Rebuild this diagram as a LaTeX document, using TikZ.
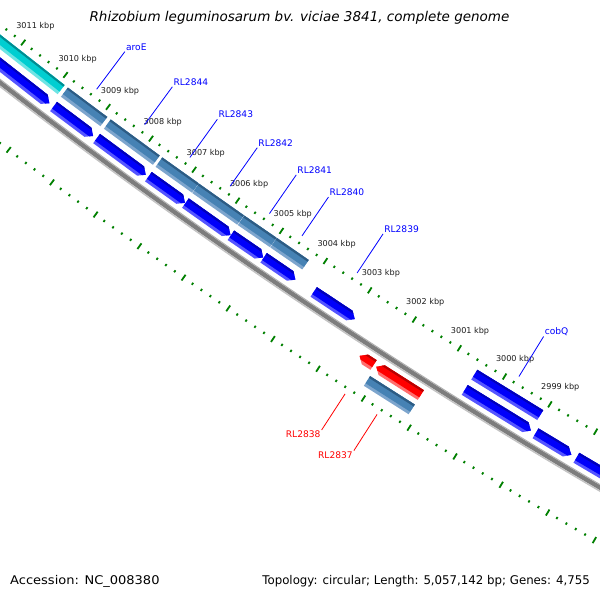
\documentclass[tikz,border=0pt]{standalone}
\usepackage{fontspec}
\setmainfont{DejaVu Sans}[ItalicFont={DejaVu Sans Oblique}]
\definecolor{tickgreen}{RGB}{0,128,0}
\definecolor{bmain}{RGB}{0,0,250}
\definecolor{bdark}{RGB}{0,0,185}
\definecolor{blight}{RGB}{85,85,255}
\definecolor{smain}{RGB}{70,130,180}
\definecolor{sdark}{RGB}{45,92,132}
\definecolor{slight}{RGB}{125,165,205}
\definecolor{cmain}{RGB}{0,206,209}
\definecolor{cdark}{RGB}{0,140,145}
\definecolor{clight}{RGB}{110,228,228}
\definecolor{rmain}{RGB}{255,0,0}
\definecolor{rdark}{RGB}{185,0,0}
\definecolor{rlight}{RGB}{255,110,110}
\definecolor{labblue}{RGB}{0,0,255}
\definecolor{labred}{RGB}{255,0,0}
\definecolor{ticktext}{RGB}{30,30,30}
\tikzset{
  majtick/.style={tickgreen,line width=1.8pt},
  mintick/.style={tickgreen,line width=1.8pt},
  ticklab/.style={font=\fontsize{8.1}{9}\selectfont,text=ticktext,inner sep=0pt},
  glab/.style={font=\fontsize{9.1}{10}\selectfont,inner sep=1pt},
  bline/.style={labblue,line width=0.8pt},
  rline/.style={labred,line width=0.8pt},
  foot/.style={font=\fontsize{12}{14}\selectfont,inner sep=0pt,text=black}
}
% band between radii #3 and #4 over kbp #1..#2
\newcommand\gband[5]{\fill[#5] ({phi(#1)}:#3) -- ({phi(#2)}:#3) -- ({phi(#2)}:#4) -- ({phi(#1)}:#4) -- cycle;}
\newcommand\fillbands[5]{%
  \pgfmathsetmacro\kA{#1+0.3}\pgfmathsetmacro\kB{#2-0.3}%
  \pgfmathsetmacro\rA{#3-0.5}\pgfmathsetmacro\rB{#4+0.5}%
  \pgfmathsetmacro\rC{#4-3}\pgfmathsetmacro\rD{#3+2.2}%
  \gband{\kA}{\kB}{\rA}{\rB}{#5light}%
  \gband{\kA}{\kB}{\rA}{\rC}{#5main}%
  \gband{\kA}{\kB}{\rA}{\rD}{#5dark}}
% plain bar
\newcommand\gbarr[5]{\begin{scope}
  \clip ({phi(#1)}:#3) -- ({phi(#2)}:#3) -- ({phi(#2)}:#4) -- ({phi(#1)}:#4) -- cycle;
  \fillbands{#1}{#2}{#3}{#4}{#5}\end{scope}}
% arrow with tip at #2 (lower kbp)
\newcommand\garrR[5]{\begin{scope}
  \pgfmathsetmacro\rM{(#3+#4)/2}\pgfmathsetmacro\kH{#2+0.12}
  \clip ({phi(#1)}:#3) -- ({phi(\kH)}:#3) -- ({phi(#2)}:\rM) -- ({phi(\kH)}:#4) -- ({phi(#1)}:#4) -- cycle;
  \fillbands{#1}{#2}{#3}{#4}{#5}\end{scope}}
% arrow with tip at #1 (higher kbp)
\newcommand\garrL[5]{\begin{scope}
  \pgfmathsetmacro\rM{(#3+#4)/2}\pgfmathsetmacro\kH{#1-0.12}
  \clip ({phi(#1)}:\rM) -- ({phi(\kH)}:#3) -- ({phi(#2)}:#3) -- ({phi(#2)}:#4) -- ({phi(\kH)}:#4) -- cycle;
  \fillbands{#1}{#2}{#3}{#4}{#5}\end{scope}}
% labels
\newcommand\uplab[3]{%
  \coordinate (#1a) at ({phi(#2)}:5590.5);
  \coordinate (#1b) at ({phi(#2)}:5543.5);
  \node[glab,text=labblue,anchor=south west] (#1) at (#1b) {#3};
  \draw[bline] (#1a) -- (#1.south west);}
\newcommand\lowlab[3]{%
  \coordinate (#1a) at ({phi(#2)}:5698);
  \coordinate (#1b) at ({phi(#2)}:5741);
  \node[glab,text=labred,anchor=north east] (#1) at (#1b) {#3};
  \draw[rline] (#1a) -- (#1.north east);}
\begin{document}
\begin{tikzpicture}[x=1pt,y=1pt,declare function={phi(\q)=-127.76+0.5454*(3011-\q);}]
\useasboundingbox (0,0) rectangle (600,600);
\fill[white] (0,0) rectangle (600,600);
\clip (0,0) rectangle (600,600);
\begin{scope}[shift={(3451,4983)}]
  % ticks
  \foreach \i in {0,...,85}{
    \pgfmathsetmacro\k{3013-0.2*\i}
    \pgfmathtruncatemacro\m{mod(\i,5)}
    \ifnum\m=0
      \draw[majtick] ({phi(\k)}:5594.5) -- ({phi(\k)}:5601.5);
      \draw[majtick] ({phi(\k)}:5688.5) -- ({phi(\k)}:5695.5);
    \else
      \draw[mintick] ({phi(\k)}:5596.8) -- ({phi(\k)}:5599.2);
      \draw[mintick] ({phi(\k)}:5690.8) -- ({phi(\k)}:5693.2);
    \fi}
  \foreach \k in {2999,...,3011}{
    \node[ticklab] (tl\k) at ({phi(\k)}:5578) {\k\ kbp};}
  % backbone
  \draw[line width=4.5pt,color={rgb,255:red,125;green,125;blue,125}]
    ({phi(3013)}:5644) arc[start angle={phi(3013)},end angle={phi(2996)},radius=5644];
  \draw[line width=1pt,color={rgb,255:red,175;green,175;blue,175}]
    ({phi(3013)}:5641.3) arc[start angle={phi(3013)},end angle={phi(2996)},radius=5641.3];
  \draw[line width=1.5pt,color={rgb,255:red,195;green,195;blue,195}]
    ({phi(3013)}:5647) arc[start angle={phi(3013)},end angle={phi(2996)},radius=5647];
  % ring A (COG, outer)
  \gbarr{3013}{3009.9}{5606.5}{5618}{c}
  \gbarr{3009.82}{3008.9}{5606.5}{5618}{s}
  \gbarr{3008.82}{3007.68}{5606.5}{5618}{s}
  \gbarr{3007.62}{3006.785}{5606.5}{5618}{s}
  \gbarr{3006.775}{3005.745}{5606.5}{5618}{s}
  \gbarr{3005.735}{3005.005}{5606.5}{5618}{s}
  \gbarr{3004.995}{3004.27}{5606.5}{5618}{s}
  \gbarr{3000.5}{2999.05}{5606.5}{5618}{b}
  % ring B (CDS)
  \garrR{3013}{3009.92}{5624.5}{5636}{b}
  \garrR{3009.82}{3008.9}{5624.5}{5636}{b}
  \garrR{3008.82}{3007.68}{5624.5}{5636}{b}
  \garrR{3007.62}{3006.78}{5624.5}{5636}{b}
  \garrR{3006.77}{3005.74}{5624.5}{5636}{b}
  \garrR{3005.73}{3005.0}{5624.5}{5636}{b}
  \garrR{3004.99}{3004.27}{5624.5}{5636}{b}
  \garrR{3003.86}{3002.94}{5624.5}{5636}{b}
  \garrR{3000.5}{2999.05}{5624.5}{5636}{b}
  \garrR{2998.95}{2998.17}{5624.5}{5636}{b}
  \garrR{2998.06}{2997.0}{5624.5}{5636}{b}
  % ring C (CDS, reverse)
  \garrL{3002.49}{3002.18}{5652.5}{5664}{r}
  \garrL{3002.12}{3001.14}{5652.5}{5664}{r}
  % ring D (COG, inner)
  \gbarr{3002.12}{3001.14}{5669.5}{5681}{s}
  % gene labels
  \uplab{aroE}{3009.37}{aroE}
  \uplab{RLa}{3008.25}{RL2844}
  \uplab{RLb}{3007.2}{RL2843}
  \uplab{RLc}{3006.27}{RL2842}
  \uplab{RLd}{3005.37}{RL2841}
  \uplab{RLe}{3004.63}{RL2840}
  \uplab{RLf}{3003.38}{RL2839}
  \uplab{cobQ}{2999.77}{cobQ}
  \lowlab{RLg}{3002.33}{RL2838}
  \lowlab{RLh}{3001.63}{RL2837}
\end{scope}
\node[font=\fontsize{13.5}{15}\selectfont\itshape,inner sep=0pt] (title) at (299.5,582)
  {Rhizobium leguminosarum bv. viciae 3841, complete genome};
\node[foot,anchor=west] (acc) at (10,19) {\scalebox{1.085}[1]{Accession: NC\_008380}};
\node[foot,anchor=east] (topo) at (590,19) {\scalebox{0.982}[1]{Topology: circular; Length: 5,057,142 bp; Genes: 4,755}};
\end{tikzpicture}
\end{document}
